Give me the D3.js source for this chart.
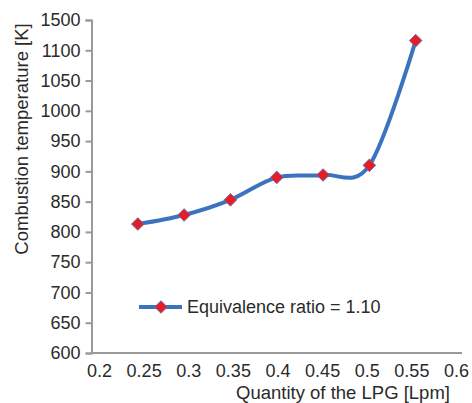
<!DOCTYPE html>
<html><head><meta charset="utf-8">
<script src="https://cdn.jsdelivr.net/npm/d3@7"></script>
<style>body{margin:0;background:#fff}svg{display:block}text{font-family:"Liberation Sans",Arial,sans-serif;fill:#2b2b2b}</style>
</head><body>
<svg id="c" width="472" height="403"></svg>
<script>
const quantity = [0.25, 0.30, 0.35, 0.40, 0.45, 0.50, 0.55];
const temperature = [813, 828, 853, 890, 894, 910, 1116];
const seriesName = "Equivalence ratio = 1.10";
const xTickValues = [0.2, 0.25, 0.3, 0.35, 0.4, 0.45, 0.5, 0.55, 0.6];
const xTickLabels = ["0.2","0.25","0.3","0.35","0.4","0.45","0.5","0.55","0.6"];
const yTickValues = [600, 650, 700, 750, 800, 850, 900, 950, 1000, 1050, 1100, 1150];
const yTickLabels = ["600","650","700","750","800","850","900","950","1000","1050","1100","1500"];
const xTitle = "Quantity of the LPG [Lpm]";
const yTitle = "Combustion temperature [K]";

const svg = d3.select("#c");
const x = d3.scaleLinear().domain([0.2, 0.6]).range([91.5, 462]);
// tick labels in the reference sit on a slightly different spacing than the data
const xLab = d3.scaleLinear().domain([0.2, 0.6]).range([99, 456]);
const y = d3.scaleLinear().domain([600, 1150]).range([353, 20]);
const axisColor = "#9a9a9a";

// Y axis
const ya = svg.append("g").attr("transform", `translate(${x(0.2)},0)`)
  .call(d3.axisLeft(y).tickValues(yTickValues).tickSize(6).tickPadding(5)
    .tickFormat((d,i) => yTickLabels[i]));
ya.select(".domain").attr("stroke", axisColor).attr("stroke-width", 2);
ya.selectAll(".tick line").attr("stroke", axisColor).attr("stroke-width", 2);
ya.selectAll(".tick text").attr("font-size", 18).attr("fill", "#2b2b2b");

// X axis line
svg.append("line").attr("x1", x(0.2) - 1).attr("x2", x(0.6)).attr("y1", y(600)).attr("y2", y(600))
  .attr("stroke", axisColor).attr("stroke-width", 2);
// X tick labels
const xa = svg.append("g").attr("transform", `translate(0,${y(600)})`)
  .call(d3.axisBottom(xLab).tickValues(xTickValues).tickSize(0).tickPadding(11)
    .tickFormat((d,i) => xTickLabels[i]));
xa.select(".domain").remove();
xa.selectAll(".tick text").attr("font-size", 18).attr("fill", "#2b2b2b");

// titles
svg.append("text").attr("x", 343).attr("y", 399).attr("text-anchor", "middle")
  .attr("font-size", 18.5).text(xTitle);
svg.append("text").attr("transform", "translate(28,139) rotate(-90)").attr("text-anchor", "middle")
  .attr("font-size", 18.5).text(yTitle);

const pts = quantity.map((q,i) => [q, temperature[i]]);
const line = d3.line().x(d => x(d[0])).y(d => y(d[1])).curve(d3.curveCardinal.tension(0));
svg.append("path").attr("d", line(pts)).attr("fill", "none")
  .attr("stroke", "#3b73bf").attr("stroke-width", 4);

const diamond = d3.symbol().type(d3.symbolSquare).size(80);
svg.selectAll(".m").data(pts).join("path").attr("class","m")
  .attr("d", diamond())
  .attr("transform", d => `translate(${x(d[0])},${y(d[1])}) rotate(45)`)
  .attr("fill", "#e41e26").attr("stroke", "#5a6fb0").attr("stroke-width", 0.8);

// legend
const lg = svg.append("g").attr("transform", "translate(139,307)");
lg.append("line").attr("x1", 0).attr("x2", 43).attr("stroke", "#3b73bf").attr("stroke-width", 4);
lg.append("path").attr("d", diamond()).attr("transform", "translate(22,0) rotate(45)")
  .attr("fill", "#e41e26").attr("stroke", "#5a6fb0").attr("stroke-width", 0.8);
lg.append("text").attr("x", 48).attr("y", 0).attr("dy", "0.35em").attr("font-size", 18).text(seriesName);
</script>
</body></html>
